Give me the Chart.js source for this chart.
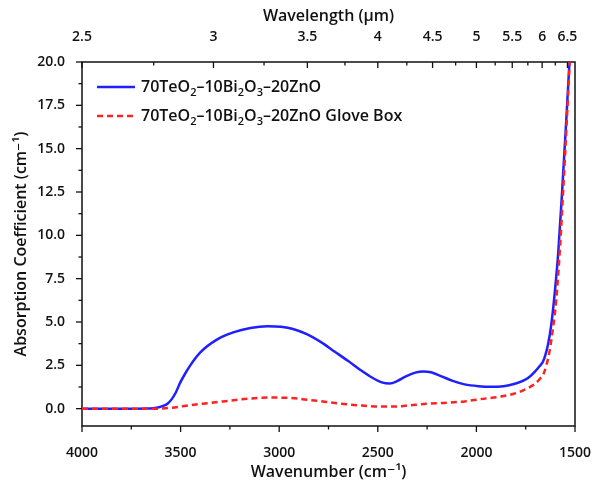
<!DOCTYPE html>
<html>
<head>
<meta charset="utf-8">
<script src="https://cdn.jsdelivr.net/npm/chart.js@4.4.1/dist/chart.umd.min.js"></script>
<style>
  html, body { margin: 0; padding: 0; background: #fff; }
  #wrap { width: 607px; height: 487px; }
</style>
</head>
<body>
<div id="wrap"><canvas id="absChart" width="607" height="487"></canvas></div>
<script>
// Values.
var blueWavenumber = [4000, 3800, 3670, 3640, 3610, 3585, 3565, 3545, 3525, 3502, 3478, 3451, 3400, 3314, 3233, 3146, 3060, 2990, 2930, 2860, 2790, 2720, 2650, 2590, 2530, 2480, 2440, 2400, 2360, 2310, 2270, 2230, 2180, 2120, 2060, 1990, 1920, 1876, 1810, 1774, 1740, 1708, 1680, 1662, 1650, 1637, 1622, 1606, 1585, 1565, 1545, 1528];
var blueAbsorption = [0, 0, 0.01, 0.03, 0.08, 0.17, 0.3, 0.55, 0.92, 1.5, 2.0, 2.5, 3.25, 4.0, 4.4, 4.65, 4.75, 4.72, 4.6, 4.3, 3.85, 3.3, 2.75, 2.25, 1.8, 1.52, 1.45, 1.6, 1.85, 2.08, 2.15, 2.1, 1.88, 1.6, 1.4, 1.3, 1.27, 1.28, 1.42, 1.56, 1.75, 2.08, 2.45, 2.72, 3.1, 3.7, 4.7, 6.3, 9.0, 12.6, 16.5, 20.0];

var gloveWavenumber = [4000, 3800, 3620, 3550, 3450, 3350, 3284, 3150, 3050, 2950, 2860, 2770, 2690, 2580, 2480, 2420, 2350, 2250, 2150, 2060, 1980, 1876, 1810, 1774, 1740, 1708, 1680, 1657, 1631, 1611, 1595, 1575, 1558, 1543, 1527];
var gloveAbsorption = [0, 0, 0, 0.05, 0.2, 0.33, 0.42, 0.58, 0.64, 0.62, 0.52, 0.4, 0.29, 0.18, 0.12, 0.12, 0.18, 0.28, 0.34, 0.42, 0.55, 0.7, 0.86, 1.0, 1.18, 1.39, 1.7, 2.08, 3.2, 4.7, 6.3, 9.5, 13.0, 16.3, 20.0];

var seriesLabels = ['70TeO₂–10Bi₂O₃–20ZnO', '70TeO₂–10Bi₂O₃–20ZnO Glove Box'];

var xMajorTicks = [4000, 3500, 3000, 2500, 2000, 1500];
var xMinorTicks = [3750, 3250, 2750, 2250, 1750];
var yMajorTicks = [0, 2.5, 5, 7.5, 10, 12.5, 15, 17.5, 20];
var yMinorTicks = [1.25, 3.75, 6.25, 8.75, 11.25, 13.75, 16.25, 18.75];
var wavelengthMajor = [2.5, 3, 3.5, 4, 4.5, 5, 5.5, 6, 6.5];
var wavelengthMinor = [2.75, 3.25, 3.75, 4.25, 4.75, 5.25, 5.75, 6.25];

var FONT = "'Open Sans', 'DejaVu Sans', sans-serif";

function toPoints(xs, ys) {
  return xs.map(function (x, i) { return { x: x, y: ys[i] }; });
}

function tickList(major, minor, toValue) {
  var list = [];
  major.forEach(function (v) { list.push({ value: toValue(v), isMajor: true, src: v }); });
  minor.forEach(function (v) { list.push({ value: toValue(v), isMajor: false, src: v }); });
  list.sort(function (a, b) { return a.value - b.value; });
  return list;
}

function same(v) { return v; }
function lambdaToWavenumber(v) { return 10000 / v; }

// Frame and tick marks (major longer than minor).
var framePlugin = {
  id: 'frameTicks',
  beforeDatasetsDraw: function (chart) {
    var ctx = chart.ctx;
    var a = chart.chartArea;
    ctx.save();
    ctx.strokeStyle = '#111';
    ctx.lineWidth = 1.5;
    ctx.strokeRect(a.left, a.top, a.right - a.left, a.bottom - a.top);
    ctx.lineWidth = 1.3;

    function marks(scale, side) {
      scale.ticks.forEach(function (t) {
        var p = scale.getPixelForValue(t.value);
        var len = t.isMajor ? 6 : 3.5;
        ctx.beginPath();
        if (side === 'left') { ctx.moveTo(a.left, p); ctx.lineTo(a.left - len, p); }
        if (side === 'bottom') { ctx.moveTo(p, a.bottom); ctx.lineTo(p, a.bottom + len); }
        if (side === 'top') { ctx.moveTo(p, a.top); ctx.lineTo(p, a.top + len); }
        ctx.stroke();
      });
    }
    marks(chart.scales.y, 'left');
    marks(chart.scales.x, 'bottom');
    marks(chart.scales.x2, 'top');
    ctx.restore();
  }
};

// Legend drawn inside the plot, with real subscripts.
var SUBS = '₀₁₂₃₄₅₆₇₈₉';
function drawRich(ctx, text, x, y) {
  for (var i = 0; i < text.length; i++) {
    var ch = text[i];
    var k = SUBS.indexOf(ch);
    if (k >= 0) {
      ctx.font = '600 11px ' + FONT;
      ctx.fillText(String(k), x, y + 6);
      x += ctx.measureText(String(k)).width;
    } else {
      ctx.font = '600 16px ' + FONT;
      ctx.fillText(ch, x, y);
      x += ctx.measureText(ch).width;
    }
  }
}

var legendPlugin = {
  id: 'insideLegend',
  afterDraw: function (chart) {
    var ctx = chart.ctx;
    var rows = [87, 116];
    ctx.save();
    chart.data.datasets.forEach(function (ds, i) {
      var y = rows[i];
      ctx.strokeStyle = ds.borderColor;
      ctx.lineWidth = ds.borderWidth;
      ctx.setLineDash(ds.borderDash || []);
      ctx.beginPath();
      ctx.moveTo(97, y);
      ctx.lineTo(135, y);
      ctx.stroke();
      ctx.setLineDash([]);
      ctx.fillStyle = '#111';
      ctx.textBaseline = 'middle';
      ctx.textAlign = 'left';
      drawRich(ctx, ds.label, 141, y);
    });
    ctx.restore();
  }
};

var ctx = document.getElementById('absChart');
new Chart(ctx, {
  type: 'line',
  data: {
    datasets: [{
      label: seriesLabels[0],
      data: toPoints(blueWavenumber, blueAbsorption),
      borderColor: '#1f1fff',
      borderWidth: 2.5,
      pointRadius: 0,
      cubicInterpolationMode: 'monotone',
      order: 1,
      xAxisID: 'x',
      yAxisID: 'y'
    }, {
      label: seriesLabels[1],
      data: toPoints(gloveWavenumber, gloveAbsorption),
      borderColor: '#ff2222',
      borderWidth: 2.5,
      borderDash: [6, 4],
      pointRadius: 0,
      cubicInterpolationMode: 'monotone',
      order: 0,
      xAxisID: 'x',
      yAxisID: 'y'
    }]
  },
  options: {
    responsive: false,
    animation: false,
    devicePixelRatio: 1,
    layout: { padding: { left: 0, right: 32, top: 0, bottom: 0 } },
    plugins: {
      legend: { display: false },
      tooltip: { enabled: false }
    },
    scales: {
      x: {
        type: 'linear',
        position: 'bottom',
        reverse: true,
        min: 1500,
        max: 4000,
        grid: { display: false },
        border: { display: false },
        afterBuildTicks: function (scale) { scale.ticks = tickList(xMajorTicks, xMinorTicks, same); },
        afterFit: function (scale) { scale.height = 61; },
        ticks: {
          autoSkip: false, maxRotation: 0, minRotation: 0, padding: 11, color: '#111',
          font: { family: FONT, size: 14, weight: '600' },
          callback: function (value, index, ticks) { return ticks[index].isMajor ? String(value) : ''; }
        },
        title: {
          display: true, text: 'Wavenumber (cm⁻¹)', color: '#111',
          font: { family: FONT, size: 16, weight: '600' },
          padding: { top: 0, bottom: 5 }
        }
      },
      x2: {
        type: 'linear',
        position: 'top',
        reverse: true,
        min: 1500,
        max: 4000,
        grid: { display: false },
        border: { display: false },
        afterBuildTicks: function (scale) { scale.ticks = tickList(wavelengthMajor, wavelengthMinor, lambdaToWavenumber); },
        afterFit: function (scale) { scale.height = 62; },
        ticks: {
          autoSkip: false, maxRotation: 0, minRotation: 0, padding: 9, color: '#111',
          font: { family: FONT, size: 14, weight: '600' },
          callback: function (value, index, ticks) { return ticks[index].isMajor ? String(ticks[index].src) : ''; }
        },
        title: {
          display: true, text: 'Wavelength (μm)', color: '#111',
          font: { family: FONT, size: 16, weight: '600' },
          padding: { top: 7, bottom: 0 }
        }
      },
      y: {
        type: 'linear',
        position: 'left',
        min: -1,
        max: 20,
        grid: { display: false },
        border: { display: false },
        afterBuildTicks: function (scale) { scale.ticks = tickList(yMajorTicks, yMinorTicks, same); },
        afterFit: function (scale) { scale.width = 82; },
        ticks: {
          autoSkip: false, padding: 9, color: '#111',
          font: { family: FONT, size: 14, weight: '600' },
          callback: function (value, index, ticks) { return ticks[index].isMajor ? value.toFixed(1) : ''; }
        },
        title: {
          display: true, text: 'Absorption Coefficient (cm⁻¹)', color: '#111',
          font: { family: FONT, size: 16, weight: '600' },
          padding: { top: 12, bottom: 0 }
        }
      }
    }
  },
  plugins: [framePlugin, legendPlugin]
});
</script>
</body>
</html>
